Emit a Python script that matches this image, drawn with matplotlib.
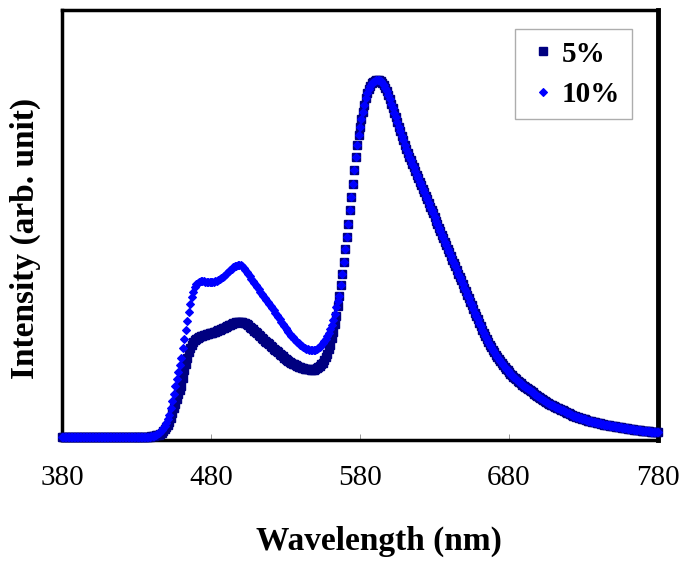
import numpy as np
import matplotlib
matplotlib.use("Agg")
import matplotlib.pyplot as plt

# Wavelength grid (nm), 1 nm steps
wavelength = list(range(380, 781))

# Values (normalised intensity, main peak = 1)
baseline = [0.008] * 60  # 380-439 nm

head_5 = [
    0.010, 0.011, 0.012, 0.013, 0.014, 0.015, 0.017, 0.020, 0.025, 0.030,  # 440
    0.035, 0.042, 0.050, 0.062, 0.075, 0.088, 0.100, 0.114, 0.127, 0.139,  # 450
    0.151, 0.172, 0.193, 0.212, 0.229, 0.243, 0.255, 0.264, 0.271, 0.277,  # 460
    0.281, 0.284, 0.287, 0.289, 0.290, 0.291, 0.292, 0.293, 0.294, 0.296,  # 470
    0.297, 0.298, 0.300, 0.301, 0.303, 0.305, 0.306, 0.308, 0.310, 0.312,  # 480
    0.314, 0.316, 0.318, 0.320, 0.322, 0.324, 0.326, 0.327, 0.328, 0.329,  # 490
    0.329, 0.328, 0.326, 0.324, 0.321, 0.318, 0.315, 0.311, 0.308, 0.304,  # 500
    0.300, 0.296, 0.292, 0.288, 0.284, 0.280, 0.276, 0.273, 0.269, 0.266,  # 510
    0.262, 0.258, 0.254, 0.250, 0.247, 0.243, 0.239, 0.236, 0.232, 0.229,  # 520
    0.225, 0.222, 0.220, 0.217, 0.215, 0.212, 0.210, 0.208, 0.206, 0.204,  # 530
    0.202, 0.201, 0.199, 0.198, 0.197, 0.196, 0.196, 0.195, 0.195, 0.195,  # 540
    0.197, 0.199, 0.202, 0.205, 0.210, 0.215, 0.222, 0.230, 0.240, 0.252,  # 550
    0.265, 0.282, 0.300, 0.322, 0.345, 0.372,                              # 560-565
]

head_10 = [
    0.010, 0.011, 0.012, 0.014, 0.016, 0.019, 0.023, 0.028, 0.034, 0.040,  # 440
    0.048, 0.058, 0.070, 0.088, 0.108, 0.128, 0.150, 0.170, 0.190, 0.208,  # 450
    0.228, 0.255, 0.280, 0.305, 0.330, 0.355, 0.377, 0.396, 0.412, 0.424,  # 460
    0.432, 0.437, 0.440, 0.441, 0.441, 0.441, 0.440, 0.440, 0.439, 0.439,  # 470
    0.439, 0.439, 0.440, 0.441, 0.442, 0.444, 0.446, 0.449, 0.452, 0.456,  # 480
    0.460, 0.464, 0.468, 0.472, 0.476, 0.479, 0.482, 0.484, 0.486, 0.486,  # 490
    0.485, 0.482, 0.478, 0.473, 0.467, 0.461, 0.454, 0.447, 0.441, 0.435,  # 500
    0.430, 0.424, 0.418, 0.411, 0.405, 0.399, 0.394, 0.389, 0.383, 0.377,  # 510
    0.371, 0.366, 0.360, 0.354, 0.348, 0.342, 0.336, 0.329, 0.322, 0.316,  # 520
    0.310, 0.305, 0.300, 0.295, 0.290, 0.285, 0.280, 0.276, 0.272, 0.268,  # 530
    0.264, 0.261, 0.258, 0.256, 0.254, 0.252, 0.251, 0.250, 0.250, 0.250,  # 540
    0.251, 0.253, 0.255, 0.259, 0.263, 0.268, 0.274, 0.281, 0.289, 0.298,  # 550
    0.308, 0.320, 0.334, 0.350, 0.368, 0.386,                              # 560-565
]

# 566-780 nm: both samples coincide
shared_tail = [
    0.400, 0.430, 0.460, 0.495,                                            # 566
    0.530, 0.565, 0.600, 0.638, 0.675, 0.712, 0.750, 0.785, 0.820, 0.848,  # 570
    0.870, 0.890, 0.910, 0.930, 0.950, 0.963, 0.975, 0.983, 0.990, 0.995,  # 580
    0.998, 0.999, 1.000, 0.999, 0.996, 0.992, 0.985, 0.978, 0.968, 0.957,  # 590
    0.946, 0.934, 0.922, 0.909, 0.896, 0.883, 0.870, 0.857, 0.844, 0.832,  # 600
    0.820, 0.809, 0.798, 0.787, 0.777, 0.767, 0.757, 0.747, 0.737, 0.727,  # 610
    0.717, 0.707, 0.697, 0.688, 0.678, 0.668, 0.658, 0.648, 0.639, 0.629,  # 620
    0.619, 0.609, 0.599, 0.590, 0.580, 0.570, 0.560, 0.550, 0.541, 0.531,  # 630
    0.521, 0.511, 0.501, 0.492, 0.482, 0.472, 0.462, 0.452, 0.443, 0.433,  # 640
    0.423, 0.413, 0.403, 0.394, 0.384, 0.374, 0.364, 0.354, 0.345, 0.335,  # 650
    0.325, 0.316, 0.306, 0.297, 0.288, 0.280, 0.272, 0.264, 0.257, 0.250,  # 660
    0.243, 0.237, 0.231, 0.225, 0.219, 0.213, 0.208, 0.203, 0.198, 0.193,  # 670
    0.188, 0.184, 0.180, 0.176, 0.172, 0.168, 0.164, 0.160, 0.157, 0.154,  # 680
    0.150, 0.147, 0.144, 0.141, 0.138, 0.135, 0.132, 0.129, 0.126, 0.123,  # 690
    0.120, 0.117, 0.114, 0.111, 0.108, 0.105, 0.103, 0.100, 0.098, 0.096,  # 700
    0.094, 0.092, 0.090, 0.088, 0.086, 0.084, 0.082, 0.080, 0.078, 0.076,  # 710
    0.074, 0.072, 0.070, 0.068, 0.066, 0.065, 0.063, 0.062, 0.060, 0.059,  # 720
    0.058, 0.057, 0.055, 0.054, 0.053, 0.052, 0.051, 0.050, 0.049, 0.048,  # 730
    0.047, 0.046, 0.045, 0.044, 0.043, 0.042, 0.042, 0.041, 0.040, 0.039,  # 740
    0.038, 0.038, 0.037, 0.036, 0.035, 0.035, 0.034, 0.033, 0.033, 0.032,  # 750
    0.031, 0.031, 0.030, 0.030, 0.029, 0.028, 0.028, 0.027, 0.027, 0.026,  # 760
    0.026, 0.025, 0.025, 0.024, 0.024, 0.023, 0.023, 0.022, 0.022, 0.021,  # 770
    0.021,                                                                 # 780
]

intensity_5 = baseline + head_5 + shared_tail
intensity_10 = baseline + head_10 + shared_tail

series_labels = ["5%", "10%"]
xticks = [380, 480, 580, 680, 780]

SERIF = "Liberation Serif"

fig = plt.figure(figsize=(6.85, 5.62), dpi=100)
ax = fig.add_axes([62 / 685, 1 - 440 / 562, (658 - 62) / 685, (440 - 10) / 562])

ax.plot(wavelength, intensity_5, linestyle="none", marker="s", markersize=6,
        markerfacecolor="#000080", markeredgecolor="#000080", markeredgewidth=1.0,
        label=series_labels[0], clip_on=False, zorder=3)
ax.plot(wavelength, intensity_10, linestyle="none", marker="D", markersize=3.6,
        markerfacecolor="#0000FF", markeredgecolor="#0000FF", markeredgewidth=0.8,
        label=series_labels[1], clip_on=False, zorder=4)

ax.set_xlim(380, 780)
ax.set_ylim(0, 1.194)
ax.set_xticks(xticks)
ax.set_xticklabels([str(t) for t in xticks], fontfamily=SERIF, fontsize=21)
ax.set_yticks([])
ax.tick_params(axis="x", direction="in", length=4, width=0.6, color="#888888", pad=18)

for side in ["left", "right", "top", "bottom"]:
    ax.spines[side].set_linewidth(2.5)
    ax.spines[side].set_color("black")
ax.spines["right"].set_linewidth(3.5)

fig.text(379 / 685, 1 - 550 / 562, "Wavelength (nm)", fontfamily=SERIF, fontsize=24,
         fontweight="bold", ha="center", va="baseline")
fig.text(25 / 685, 1 - 238 / 562, "Intensity (arb. unit)", fontfamily=SERIF, fontsize=24,
         fontweight="bold", ha="center", va="center", rotation=90)

leg = ax.legend(loc="upper left", bbox_to_anchor=(515 / 685, 1 - 29 / 562),
                bbox_transform=fig.transFigure, borderaxespad=0, numpoints=1,
                frameon=True, fancybox=False, shadow=False,
                prop={"family": SERIF, "size": 21, "weight": "bold"},
                handlelength=1.1, handletextpad=0.1, borderpad=0.4,
                labelspacing=0.45)
leg.get_frame().set_edgecolor("#999999")
leg.get_frame().set_linewidth(1.0)

fig.savefig("out.png", dpi=100)
